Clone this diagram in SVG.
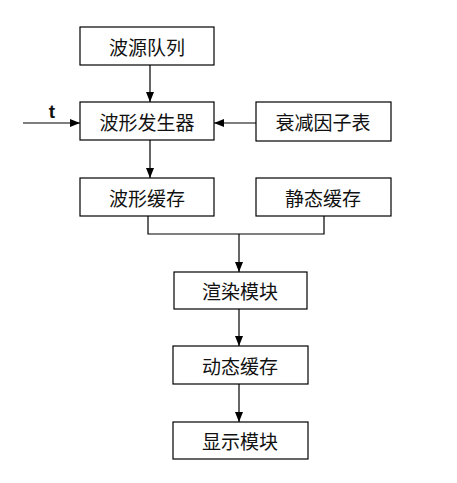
<svg xmlns="http://www.w3.org/2000/svg" width="457" height="483" viewBox="0 0 457 483">
<style>
rect{fill:#fff;stroke:#000;stroke-width:1.2}
text{font-family:"Noto Sans CJK SC","Liberation Sans",sans-serif;font-size:19px;fill:#111;text-anchor:middle;dominant-baseline:central}
.c{fill:none;stroke:#000;stroke-width:1.2}
</style>
<defs>
<marker id="a" markerWidth="10" markerHeight="8" refX="10" refY="4" orient="auto" markerUnits="userSpaceOnUse"><path d="M0,0L10,4L0,8Z" fill="#000"/></marker>
</defs>
<rect width="457" height="483" style="fill:#fff;stroke:none"/>
<g id="connectors">
<path class="c" d="M150,65V102" marker-end="url(#a)"/>
<path class="c" d="M23,123H80" marker-end="url(#a)"/>
<path class="c" d="M256,123H214" marker-end="url(#a)"/>
<path class="c" d="M150,140V178" marker-end="url(#a)"/>
<path class="c" d="M148,216V234H324V216"/>
<path class="c" d="M239,234V272" marker-end="url(#a)"/>
<path class="c" d="M239,309V346" marker-end="url(#a)"/>
<path class="c" d="M239,384V422" marker-end="url(#a)"/>
<text x="52" y="111" style="font-family:'Liberation Sans',sans-serif;font-size:19px;font-weight:bold">t</text>
</g>
<g id="n1"><rect x="80" y="27" width="134" height="38"/><text x="147" y="46">波源队列</text></g>
<g id="n2"><rect x="80" y="102" width="134" height="38"/><text x="147" y="121">波形发生器</text></g>
<g id="n3"><rect x="256" y="102" width="135" height="39"/><text x="323" y="121">衰减因子表</text></g>
<g id="n4"><rect x="80" y="178" width="134" height="38"/><text x="147" y="197">波形缓存</text></g>
<g id="n5"><rect x="256" y="178" width="135" height="38"/><text x="323" y="197">静态缓存</text></g>
<g id="n6"><rect x="174" y="272" width="133" height="37"/><text x="240" y="290">渲染模块</text></g>
<g id="n7"><rect x="173" y="346" width="135" height="38"/><text x="240" y="365">动态缓存</text></g>
<g id="n8"><rect x="173" y="422" width="135" height="37"/><text x="240" y="440">显示模块</text></g>
</svg>
